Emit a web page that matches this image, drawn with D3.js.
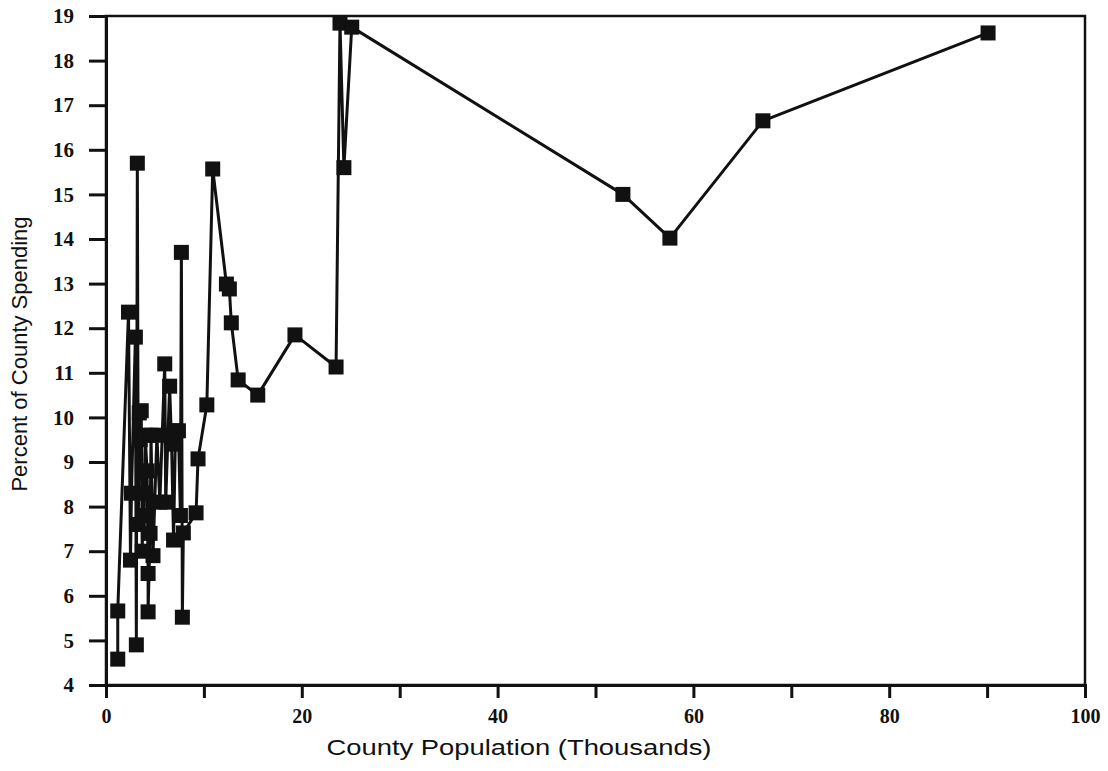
<!DOCTYPE html>
<html>
<head>
<meta charset="utf-8">
<script src="https://cdn.jsdelivr.net/npm/d3@7"></script>
<style>
  html, body { margin: 0; padding: 0; background: #fff; }
  svg { display: block; }
</style>
</head>
<body>
<svg id="chart" width="1108" height="771"></svg>
<script>
// County population (thousands), in data order
const populationK = [
  1.2, 1.2, 2.3, 2.5, 2.6, 3.0, 3.1, 3.2, 3.3, 3.4,
  3.5, 3.6, 3.7, 3.8, 3.9, 4.0, 4.2, 4.3, 4.3, 4.5,
  4.6, 4.8, 5.2, 5.5, 6.0, 6.1, 6.5, 6.7, 6.9, 7.1,
  7.4, 7.6, 7.7, 7.8, 7.9, 9.2, 9.4, 10.3, 10.9, 12.3,
  12.6, 12.8, 13.5, 15.5, 19.3, 23.5, 23.9, 24.3, 25.1, 52.8,
  57.6, 67.1, 90.1
];
// Percent of county spending for each county
const spendingPct = [
  4.58, 5.66, 12.36, 6.8, 8.3, 11.8, 4.9, 15.7, 7.6, 10.1,
  9.5, 10.15, 7.0, 8.3, 7.8, 9.6, 8.8, 6.5, 5.64, 7.4,
  9.6, 6.9, 9.6, 8.1, 11.2, 8.1, 10.7, 9.4, 7.25, 9.7,
  9.7, 7.8, 13.7, 5.52, 7.41, 7.86, 9.07, 10.28, 15.57, 12.99,
  12.88, 12.12, 10.84, 10.5, 11.85, 11.13, 18.84, 15.6, 18.75, 15.0,
  14.02, 16.65, 18.62
];
const xTickValues = [0, 10, 20, 30, 40, 50, 60, 70, 80, 90, 100];
const xTickLabels = ["0", "", "20", "", "40", "", "60", "", "80", "", "100"];
const yTickValues = [4, 5, 6, 7, 8, 9, 10, 11, 12, 13, 14, 15, 16, 17, 18, 19];

const data = populationK.map((p, i) => ({ x: p, y: spendingPct[i] }));

const svg = d3.select("#chart");
const plotLeft = 106, plotRight = 1085, plotTop = 16, plotBottom = 685;

const x = d3.scaleLinear().domain([0, 100]).range([plotLeft, plotRight]);
const y = d3.scaleLinear().domain([4, 19]).range([plotBottom, plotTop]);

const ink = "#111";

// frame around the plot area
svg.append("rect")
  .attr("x", plotLeft).attr("y", plotTop)
  .attr("width", plotRight - plotLeft).attr("height", plotBottom - plotTop)
  .attr("fill", "none").attr("stroke", ink).attr("stroke-width", 2.5);

// y axis
const yAxis = svg.append("g")
  .attr("transform", `translate(${plotLeft},0)`)
  .call(d3.axisLeft(y).tickValues(yTickValues).tickSize(17).tickPadding(15).tickFormat(d3.format("d")));
yAxis.select(".domain").attr("stroke", ink).attr("stroke-width", 3);
yAxis.selectAll(".tick line").attr("stroke", ink).attr("stroke-width", 3);
yAxis.selectAll(".tick text")
  .attr("fill", ink)
  .style("font-family", "'Liberation Serif', 'Times New Roman', serif")
  .style("font-size", "21px")
  .style("font-weight", "bold");

// x axis
const xAxis = svg.append("g")
  .attr("transform", `translate(0,${plotBottom})`)
  .call(d3.axisBottom(x).tickValues(xTickValues).tickSize(13).tickPadding(11)
    .tickFormat((d, i) => xTickLabels[i]));
xAxis.select(".domain").attr("stroke", ink).attr("stroke-width", 3);
xAxis.selectAll(".tick line").attr("stroke", ink).attr("stroke-width", 3);
xAxis.selectAll(".tick text")
  .attr("fill", ink)
  .style("font-family", "'Liberation Serif', 'Times New Roman', serif")
  .style("font-size", "20px")
  .style("font-weight", "bold");

// connecting line
svg.append("path")
  .datum(data)
  .attr("fill", "none")
  .attr("stroke", ink)
  .attr("stroke-width", 3)
  .attr("stroke-linejoin", "round")
  .attr("d", d3.line().x(d => x(d.x)).y(d => y(d.y)));

// square markers
const markerSize = 15;
svg.append("g").selectAll("rect")
  .data(data)
  .join("rect")
  .attr("x", d => x(d.x) - markerSize / 2)
  .attr("y", d => y(d.y) - markerSize / 2)
  .attr("width", markerSize)
  .attr("height", markerSize)
  .attr("fill", ink);

// axis titles
svg.append("text")
  .attr("x", 519).attr("y", 755)
  .attr("text-anchor", "middle")
  .attr("fill", ink)
  .attr("textLength", 385)
  .attr("lengthAdjust", "spacingAndGlyphs")
  .style("font-family", "'Liberation Sans', Arial, sans-serif")
  .style("font-size", "22px")
  .text("County Population (Thousands)");

svg.append("text")
  .attr("transform", "translate(27,354) rotate(-90)")
  .attr("text-anchor", "middle")
  .attr("fill", ink)
  .style("font-family", "'Liberation Sans', Arial, sans-serif")
  .style("font-size", "22px")
  .text("Percent of County Spending");
</script>
</body>
</html>
